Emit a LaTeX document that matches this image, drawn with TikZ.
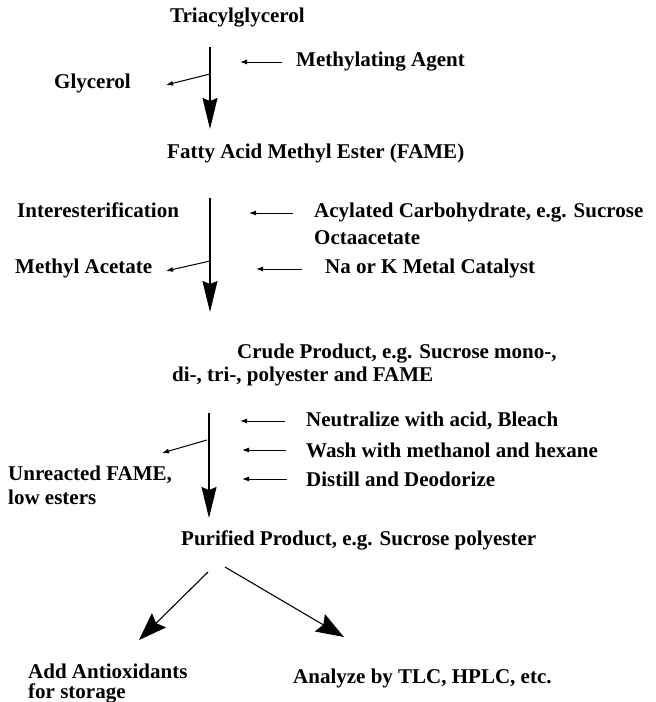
\documentclass[tikz,border=0pt]{standalone}
\usepackage{fontspec}
\setmainfont{Liberation Serif}
\usetikzlibrary{arrows.meta}
\begin{document}
\begin{tikzpicture}[x=1pt,y=-1pt,
  lbl/.style={anchor=west,inner sep=0pt,font=\fontsize{21}{22}\selectfont\bfseries},
  mainarrow/.style={line width=1.2pt,-{Stealth[length=31pt,width=15pt,inset=3pt]}},
  sidearrow/.style={line width=1pt,-{Latex[length=7pt,width=5pt]}},
  diagarrow/.style={line width=1.1pt,-{Stealth[length=28pt,width=20pt,inset=4pt]}}]
\useasboundingbox (0,0) rectangle (656,702);
% texts
\node[lbl] (tri) at (170,18) {Triacylglycerol};
\node[lbl] (meth) at (296,62) {Methylating Agent};
\node[lbl] (gly) at (54,83) {Glycerol};
\node[lbl] (fame) at (167,153) {Fatty Acid Methyl Ester (FAME)};
\node[lbl] (inter) at (17,210) {Interesterification};
\node[lbl] (acyl) at (314,213) {Acylated Carbohydrate, e.g. Sucrose};
\node[lbl] (octa) at (314,238) {Octaacetate};
\node[lbl] (macet) at (15,268) {Methyl Acetate};
\node[lbl] (cat) at (325,268) {Na or K Metal Catalyst};
\node[lbl] (crudea) at (237,354) {Crude Product, e.g. Sucrose mono-,};
\node[lbl] (crudeb) at (172,376) {di-, tri-, polyester and FAME};
\node[lbl] (neut) at (306,421) {Neutralize with acid, Bleach};
\node[lbl] (wash) at (306,450) {Wash with methanol and hexane};
\node[lbl] (dist) at (306,479) {Distill and Deodorize};
\node[lbl] (unrea) at (8,475) {Unreacted FAME,};
\node[lbl] (unreb) at (8,497) {low esters};
\node[lbl] (puri) at (181,540) {Purified Product, e.g. Sucrose polyester};
\node[lbl] (adda) at (28,671) {Add Antioxidants};
\node[lbl] (addb) at (28,693) {for storage};
\node[lbl] (anal) at (293,678) {Analyze by TLC, HPLC, etc.};
% step 1
\coordinate (s1top) at (210,47);
\coordinate (s1tip) at (210,129);
\coordinate (s1br) at (210,74);
\coordinate (glyend) at (166,85);
\coordinate (methst) at (282,62);
\coordinate (methen) at (240,62);
\draw[mainarrow] (s1top) -- (s1tip);
\draw[sidearrow] (s1br) -- (glyend);
\draw[sidearrow] (methst) -- (methen);
% step 2
\coordinate (s2top) at (210,198);
\coordinate (s2tip) at (210,312);
\coordinate (s2br) at (210,261);
\coordinate (macend) at (166,271);
\coordinate (acst) at (293,213);
\coordinate (acen) at (249,213);
\coordinate (catst) at (302,269);
\coordinate (caten) at (256,269);
\draw[mainarrow] (s2top) -- (s2tip);
\draw[sidearrow] (s2br) -- (macend);
\draw[sidearrow] (acst) -- (acen);
\draw[sidearrow] (catst) -- (caten);
% step 3
\coordinate (s3top) at (209,413);
\coordinate (s3tip) at (209,518);
\coordinate (s3br) at (207,440);
\coordinate (unend) at (162,453);
\coordinate (neust) at (285,421);
\coordinate (neuen) at (240,421);
\coordinate (wast) at (286,450);
\coordinate (waen) at (242,450);
\coordinate (dist1) at (287,479);
\coordinate (disen) at (242,479);
\draw[mainarrow] (s3top) -- (s3tip);
\draw[sidearrow] (s3br) -- (unend);
\draw[sidearrow] (neust) -- (neuen);
\draw[sidearrow] (wast) -- (waen);
\draw[sidearrow] (dist1) -- (disen);
% final split
\coordinate (lst) at (208,572);
\coordinate (len) at (139,640);
\coordinate (rst) at (225,567);
\coordinate (ren) at (344,637);
\draw[diagarrow] (lst) -- (len);
\draw[diagarrow] (rst) -- (ren);
\end{tikzpicture}
\end{document}
